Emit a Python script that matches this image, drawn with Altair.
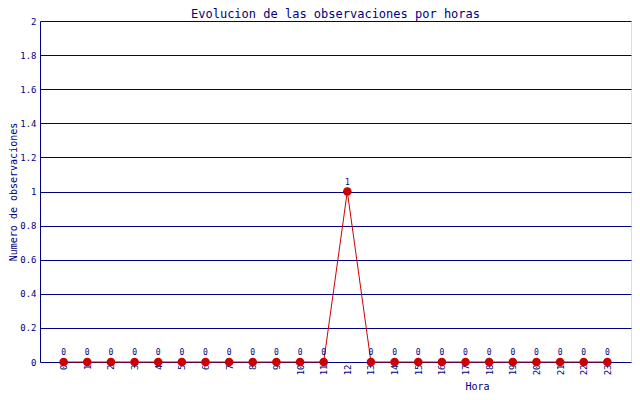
import altair as alt
import pandas as pd

horas = list(range(24))
observaciones = [0, 0, 0, 0, 0, 0, 0, 0, 0, 0, 0, 0, 1, 0, 0, 0, 0, 0, 0, 0, 0, 0, 0, 0]
y_ticks = [0, 0.2, 0.4, 0.6, 0.8, 1, 1.2, 1.4, 1.6, 1.8, 2]

df = pd.DataFrame({'hora': horas, 'obs': observaciones})

navy = '#000080'
red = '#cc0000'
font = 'DejaVu Sans Mono'

x = alt.X('hora:O', scale=alt.Scale(type='point', padding=1),
          axis=alt.Axis(title='Hora', labelAngle=-90, labelFontSize=9, labelColor=navy,
                        ticks=False, domain=False, grid=False, labelPadding=2,
                        titleX=437, titleY=24, titleBaseline='middle', titleAlign='center',
                        titleFontWeight='normal', titleFontSize=10,
                        titleColor=navy, labelFont=font, titleFont=font))
y = alt.Y('obs:Q', scale=alt.Scale(domain=[0, 2], nice=False),
          axis=alt.Axis(title='Numero de observaciones', values=y_ticks, format='~g',
                        labelFontSize=9, labelColor=navy, ticks=False, domainColor=navy,
                        gridColor=navy, gridOpacity=1, labelPadding=4,
                        titleFontWeight='normal', titleFontSize=10, titleColor=navy,
                        titleX=-27, titleBaseline='middle',
                        labelFont=font, titleFont=font))

base = alt.Chart(df).encode(x=x, y=y)

line = base.mark_line(color=red, strokeWidth=1)
points = base.mark_circle(color=red, size=75, opacity=1)
labels = base.mark_text(color=navy, dy=-9, fontSize=8, font=font).encode(text='obs:Q')

chart = alt.layer(line, points, labels).properties(
    width=591,
    height=341,
    autosize=alt.AutoSizeParams(type='none'),
    padding={'left': 32, 'top': 13, 'right': 1, 'bottom': 28},
    title=alt.TitleParams('Evolucion de las observaciones por horas', color=navy, font=font,
                          fontSize=12, fontWeight='normal', offset=-4, anchor='middle')
).configure_view(stroke=navy, strokeWidth=1).configure(background='white')

chart.save('out.html', embed_options={'renderer': 'svg', 'actions': False})
